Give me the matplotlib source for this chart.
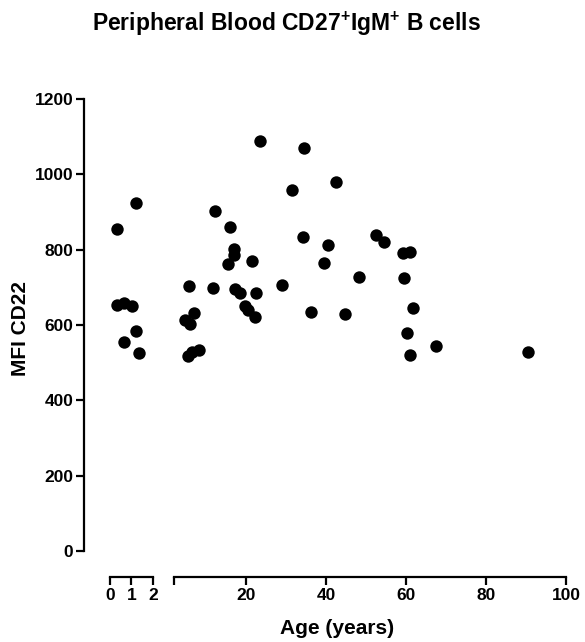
import matplotlib
matplotlib.use('Agg')
import matplotlib.pyplot as plt

plt.rcParams['font.family'] = ['Liberation Sans', 'DejaVu Sans']
plt.rcParams['font.weight'] = 'bold'
plt.rcParams['mathtext.fontset'] = 'custom'
plt.rcParams['mathtext.rm'] = 'Liberation Sans:bold'
plt.rcParams['mathtext.bf'] = 'Liberation Sans:bold'

# Infants (0-2 years)
infant_age = [0.32, 1.20, 0.35, 0.66, 1.04, 1.21, 0.66, 1.36]
infant_mfi = [855, 923, 653, 658, 651, 583, 556, 525]

# Children and adults (2-100 years)
age = [5.7, 4.7, 6.0, 7.0, 5.5, 6.3, 8.2, 11.6, 12.2, 16.0, 17.0, 17.0, 15.35,
       21.4, 17.2, 18.5, 19.7, 20.3, 22.2, 22.5, 23.5, 28.8, 34.5, 31.4, 42.4,
       34.2, 40.35, 39.35, 48.25, 36.2, 44.75, 52.35, 54.35, 59.25, 61.0, 59.5,
       61.6, 60.2, 61.0, 67.4, 90.35]
mfi = [703, 613, 602, 631, 518, 528, 533, 699, 903, 860, 802, 786, 761,
       771, 695, 684, 650, 640, 622, 686, 1088, 706, 1070, 958, 980,
       834, 812, 765, 728, 634, 630, 838, 820, 790, 795, 725,
       645, 580, 521, 543, 528]

yticks = [0, 200, 400, 600, 800, 1000, 1200]
infant_ticks = [0, 1, 2]
adult_ticks = [2, 20, 40, 60, 80, 100]
adult_ticklabels = ['', '20', '40', '60', '80', '100']

W, H = 585, 642
fig = plt.figure(figsize=(W / 100, H / 100), dpi=100)


def rect(x0, x1, y0, y1):
    return [x0 / W, 1 - y1 / H, (x1 - x0) / W, (y1 - y0) / H]


axL = fig.add_axes(rect(84.3, 153.3, 99, 551))
axR = fig.add_axes(rect(174.3, 566.3, 99, 551))

lw = 1.6
tick_fs = 12.5
for ax in (axL, axR):
    ax.set_ylim(0, 1200)
    ax.patch.set_visible(False)
    ax.spines['top'].set_visible(False)
    ax.spines['right'].set_visible(False)
    ax.spines['bottom'].set_position(('outward', 19))
    ax.spines['bottom'].set_linewidth(lw)
    ax.spines['left'].set_linewidth(lw)
    ax.tick_params(width=lw, length=6, labelsize=tick_fs, pad=2)

axL.set_xlim(-1.165, 2)
axL.spines['bottom'].set_bounds(0, 2)
axL.spines['left'].set_bounds(0, 1200)
axL.set_xticks(infant_ticks)
axL.set_xticklabels([str(t) for t in infant_ticks], fontweight='bold', fontsize=tick_fs)
axL.set_yticks(yticks)
axL.set_yticklabels([str(t) for t in yticks], fontweight='bold', fontsize=tick_fs)

axR.set_xlim(2, 100)
axR.spines['bottom'].set_bounds(2, 100)
axR.spines['left'].set_visible(False)
axR.set_yticks([])
axR.set_xticks(adult_ticks)
axR.set_xticklabels(adult_ticklabels, fontweight='bold', fontsize=tick_fs)

ms = 80
axL.scatter(infant_age, infant_mfi, s=ms, color='black', linewidths=0, clip_on=False, zorder=3)
axR.scatter(age, mfi, s=ms, color='black', linewidths=0, clip_on=False, zorder=3)

fig.text(286 / W, 1 - 24 / H, r'Peripheral Blood CD27$^{+}$IgM$^{+}$ B cells',
         ha='center', va='center', fontsize=16.5, fontweight='bold')
fig.text(337.5 / W, 1 - 628 / H, 'Age (years)', ha='center', va='center',
         fontsize=15, fontweight='bold')
fig.text(21 / W, 1 - 329 / H, 'MFI CD22', ha='center', va='center',
         rotation=90, fontsize=15, fontweight='bold')

fig.savefig('out.png', dpi=100)
